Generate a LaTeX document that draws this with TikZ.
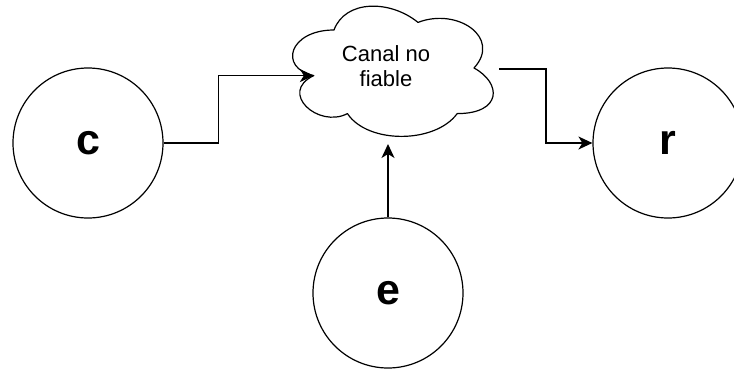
\documentclass[tikz,border=0pt]{standalone}
\usepackage{fontspec}
\setmainfont{Liberation Sans}
\usetikzlibrary{arrows.meta,calc}

\tikzset{
  state/.style={circle, draw, line width=1.2pt, minimum size=150pt, inner sep=0pt,
    font=\bfseries\fontsize{43}{50}\selectfont},
  cloudlabel/.style={draw=none, inner sep=0pt, align=center,
    font=\fontsize{22}{25}\selectfont},
  outline/.style={line width=1.2pt, line join=round},
  conn/.style={line width=1.5pt, -{Stealth[length=14pt, width=13pt, inset=4pt]}},
}

\begin{document}
\begin{tikzpicture}[x=1pt, y=-1pt]
  \useasboundingbox (0,0) rectangle (734,370);

  % the three endpoints
  \node[state] (c) at (88,143) {c};
  \node[state] (r) at (668,143) {r};
  \node[state] (e) at (388,293) {e};

  % the unreliable channel: outline drawn in a 224 x 152 box
  \coordinate (cloudbox) at (278,-8);
  \begin{scope}[shift={(cloudbox)}, x=224pt, y=-152pt]
    \draw[outline] (0.25,0.25)
      .. controls (0.05,0.25) and (0,0.5) .. (0.16,0.55)
      .. controls (0,0.66) and (0.18,0.9) .. (0.31,0.8)
      .. controls (0.4,1) and (0.7,1) .. (0.8,0.8)
      .. controls (1,0.8) and (1,0.6) .. (0.875,0.5)
      .. controls (1,0.3) and (0.8,0.1) .. (0.625,0.2)
      .. controls (0.5,0.05) and (0.3,0.05) .. (0.25,0.25) -- cycle;
    \coordinate (cloud-in) at (0.16,0.55);
    \coordinate (cloud-out) at (0.987,0.507);
    \coordinate (cloud-bot) at (0.487,1.0);
  \end{scope}
  \node[cloudlabel] (cloud) at (386,66) {Canal no\\fiable};

  % connectors
  \draw[conn] (c.east) -- ++(55,0) |- (cloud-in);
  \draw[conn] (cloud-out) -- ++(47,0) |- (r.west);
  \draw[conn] (e.north) -- (e.north |- cloud-bot);
\end{tikzpicture}
\end{document}
